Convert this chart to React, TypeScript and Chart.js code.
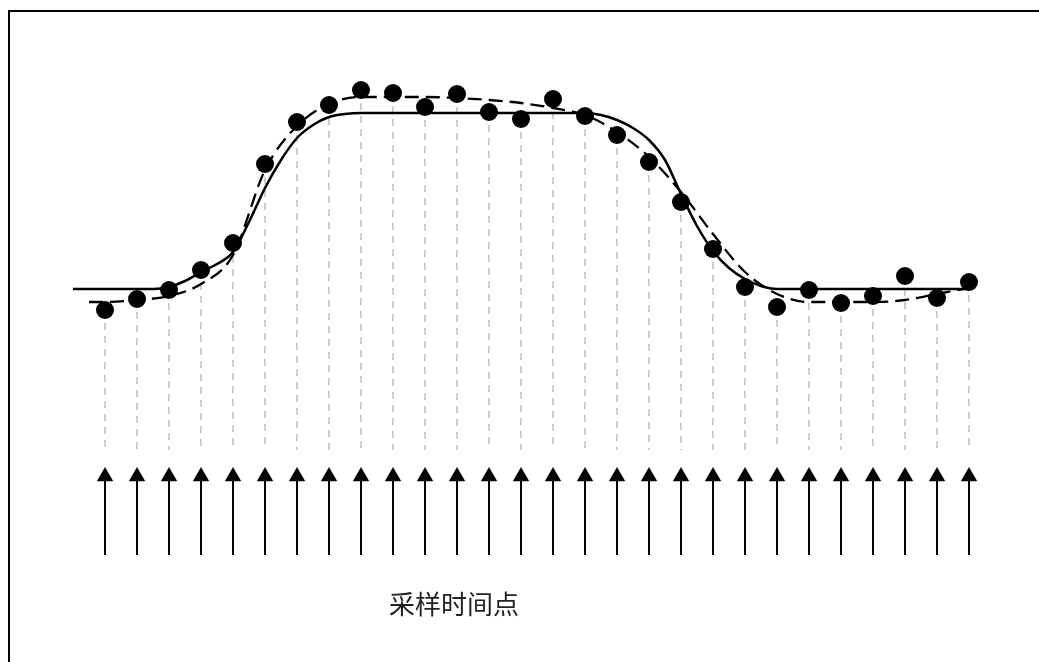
import React, { useEffect, useRef } from "react";
import { Chart, registerables } from "chart.js";

Chart.register(...registerables);

// Sample values (measured points) at sampling instants 1..28
const sampleValues = [
  30.0, 31.1, 32.0, 34.0, 36.7, 44.6, 48.8, 50.5, 52.0, 51.7, 50.3, 51.6, 49.8, 49.1,
  51.1, 49.4, 47.5, 44.8, 40.8, 36.1, 32.3, 30.3, 32.0, 30.7, 31.4, 33.4, 31.2, 32.8,
];

// Ideal (solid) curve: [time, value]
const idealX = [0, 2.5, 3, 3.5, 4, 4.5, 5, 5.5, 6, 6.5, 7, 7.5, 8, 8.5, 9, 16, 16.5, 17, 17.5, 18, 18.5, 19, 19.5, 20, 20.5, 21, 21.5, 22, 28];
const idealY = [32.1, 32.1, 32.3, 32.9, 33.8, 34.6, 35.8, 38.8, 42.2, 45.0, 47.2, 48.5, 49.3, 49.6, 49.7, 49.7, 49.5, 49.0, 48.2, 47.0, 45.0, 41.6, 38.4, 35.9, 34.2, 33.1, 32.4, 32.1, 32.1];

// Fitted (dashed) curve: [time, value]
const fitX = [0.5, 1, 2, 3, 4, 5, 6, 7, 8, 9, 10, 11, 12, 13, 14, 15, 16, 17, 18, 19, 20, 21, 22, 23, 24, 25, 26, 27, 28];
const fitY = [30.8, 30.8, 31.0, 31.4, 32.6, 35.5, 44.0, 48.4, 50.6, 51.3, 51.3, 51.3, 51.2, 51.0, 50.7, 50.2, 49.5, 47.8, 45.3, 41.8, 37.6, 33.8, 31.6, 30.8, 30.8, 30.8, 31.0, 31.6, 32.2];

// Guide / arrow levels (value units)
const GUIDE_BOTTOM = 16;
const ARROW_FOOT = 5.5;
const ARROW_NECK = 12.9;
const ARROW_HEAD = 13.35;

const X_MIN = 0;
const X_MAX = 29;
const Y_MIN = 0;
const Y_MAX = 60;

const LABEL = "采样时间点";

export default function App() {
  const canvasRef = useRef<HTMLCanvasElement | null>(null);

  useEffect(() => {
    const canvas = canvasRef.current;
    if (!canvas) return;
    const times = sampleValues.map((_, i) => i + 1);

    const dots = times.map((t, i) => ({ x: t, y: sampleValues[i] }));
    const ideal = idealX.map((x, i) => ({ x, y: idealY[i] }));
    const fit = fitX.map((x, i) => ({ x, y: fitY[i] }));
    const guides: { x: number; y: number | null }[] = [];
    times.forEach((t, i) => {
      guides.push({ x: t, y: sampleValues[i] });
      guides.push({ x: t, y: GUIDE_BOTTOM });
      guides.push({ x: t, y: null });
    });
    const shafts: { x: number; y: number | null }[] = [];
    times.forEach((t) => {
      shafts.push({ x: t, y: ARROW_FOOT });
      shafts.push({ x: t, y: ARROW_NECK });
      shafts.push({ x: t, y: null });
    });
    const heads = times.map((t) => ({ x: t, y: ARROW_HEAD }));

    const chart = new Chart(canvas, {
      type: "line",
      data: {
        datasets: [
          {
            data: dots,
            showLine: false,
            pointRadius: 9,
            pointHoverRadius: 9,
            pointBackgroundColor: "#000",
            pointBorderWidth: 0,
          },
          {
            data: fit,
            borderColor: "#000",
            borderWidth: 2.3,
            borderDash: [14, 7],
            pointRadius: 0,
            cubicInterpolationMode: "monotone",
          },
          {
            data: ideal,
            borderColor: "#000",
            borderWidth: 2.5,
            pointRadius: 0,
            cubicInterpolationMode: "monotone",
          },
          {
            data: guides as any,
            borderColor: "#c0c0c0",
            borderWidth: 1.5,
            borderDash: [7, 6],
            pointRadius: 0,
            tension: 0,
            spanGaps: false,
          },
          {
            data: shafts as any,
            borderColor: "#000",
            borderWidth: 2,
            pointRadius: 0,
            tension: 0,
            spanGaps: false,
          },
          {
            data: heads,
            showLine: false,
            pointStyle: "triangle",
            pointRadius: 9.5,
            pointHoverRadius: 9.5,
            pointBackgroundColor: "#000",
            pointBorderWidth: 0,
          },
        ],
      },
      options: {
        responsive: false,
        animation: false,
        devicePixelRatio: 1,
        layout: { padding: { left: 73, right: 38, top: 10, bottom: 52 } },
        plugins: { legend: { display: false }, tooltip: { enabled: false } },
        events: [],
        scales: {
          x: { type: "linear", min: X_MIN, max: X_MAX, display: false },
          y: { type: "linear", min: Y_MIN, max: Y_MAX, display: false },
        },
      },
    });
    return () => chart.destroy();
  }, []);

  return (
    <div style={{ position: "fixed", left: 0, top: 0, width: 1039, height: 662, overflow: "hidden", background: "#fff" }}>
      <div
        style={{
          position: "absolute",
          left: 8,
          top: 10,
          width: 1200,
          height: 900,
          border: "2px solid #000",
          boxSizing: "border-box",
        }}
      />
      <canvas ref={canvasRef} width={1039} height={662} style={{ position: "absolute", left: 0, top: 0, width: 1039, height: 662 }} />
      <div
        style={{
          position: "absolute",
          left: 389,
          top: 588,
          fontFamily: '"Noto Sans CJK SC", sans-serif',
          fontSize: 26,
          lineHeight: "30px",
          color: "#222",
          whiteSpace: "nowrap",
        }}
      >
        {LABEL}
      </div>
    </div>
  );
}
